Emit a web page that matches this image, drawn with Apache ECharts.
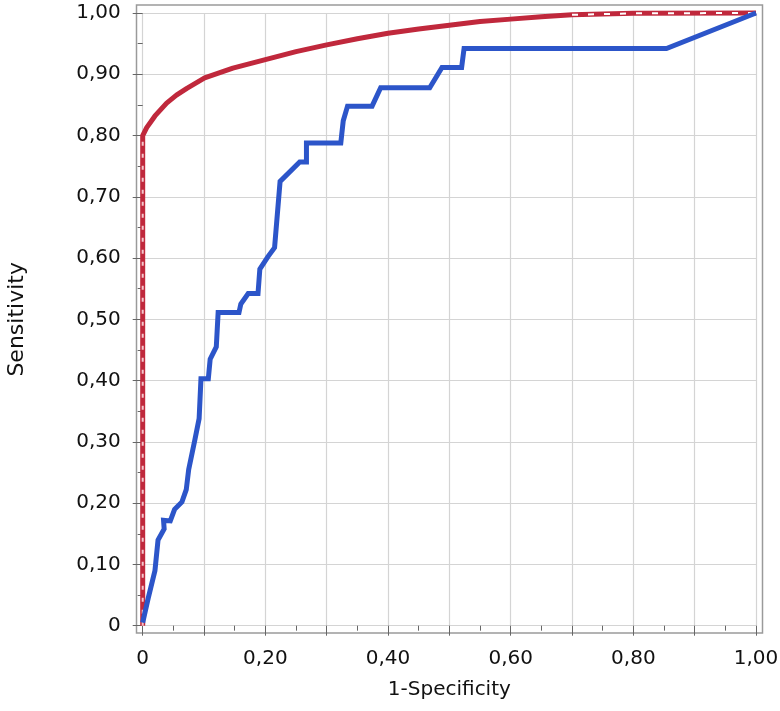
<!DOCTYPE html>
<html>
<head>
<meta charset="utf-8">
<script src="https://cdn.jsdelivr.net/npm/echarts@6/dist/echarts.min.js"></script>
<style>
  html, body { margin: 0; padding: 0; background: #fff; }
  #chart { width: 780px; height: 711px; }
</style>
</head>
<body>
<div id="chart"></div>
<script>
// ROC points: [1-specificity, sensitivity]
const redCurve = [
  [0, 0], [0, 0.80], [0.0065, 0.813], [0.02, 0.832], [0.039, 0.853], [0.055, 0.866],
  [0.072, 0.877], [0.101, 0.894], [0.147, 0.910], [0.20, 0.924], [0.25, 0.937],
  [0.30, 0.948], [0.35, 0.958], [0.40, 0.967], [0.45, 0.974], [0.50, 0.980],
  [0.55, 0.986], [0.60, 0.990], [0.65, 0.994], [0.70, 0.997], [0.80, 0.9995], [1, 1]
];
// dashed overlay parts of the red curve
const redDashLow = [[0, 0], [0, 0.80]];
const redDashTop = [[0.70, 0.997], [0.80, 0.9995], [1, 1]];

const blueCurve = [
  [0, 0.005], [0.009, 0.045], [0.02, 0.09], [0.025, 0.14], [0.035, 0.158], [0.034, 0.172],
  [0.045, 0.171], [0.052, 0.19], [0.064, 0.202], [0.071, 0.222], [0.075, 0.255],
  [0.085, 0.303], [0.092, 0.338], [0.095, 0.403], [0.107, 0.403], [0.110, 0.435],
  [0.120, 0.455], [0.123, 0.511], [0.157, 0.511], [0.160, 0.525], [0.172, 0.542],
  [0.188, 0.542], [0.191, 0.582], [0.204, 0.602], [0.215, 0.617], [0.224, 0.725],
  [0.256, 0.757], [0.267, 0.757], [0.267, 0.788], [0.323, 0.788], [0.327, 0.824],
  [0.334, 0.848], [0.374, 0.848], [0.388, 0.878], [0.468, 0.878], [0.488, 0.911],
  [0.520, 0.911], [0.524, 0.942], [0.854, 0.942], [1, 1]
];

const fmt = (v) => (v === 0 ? '0' : v.toFixed(2).replace('.', ','));
const labelStyle = { color: '#111', fontSize: 20, fontFamily: 'DejaVu Sans' };

const chart = echarts.init(document.getElementById('chart'), null, { renderer: 'canvas' });
chart.setOption({
  animation: false,
  backgroundColor: '#fff',
  grid: {
    left: 142.7, right: 24, top: 13, bottom: 85.3,
    containLabel: false, outerBoundsMode: 'none'
  },
  graphic: [{
    type: 'rect',
    z: 0,
    shape: { x: 136.5, y: 5, width: 626, height: 628 },
    style: { fill: 'none', stroke: '#9a9a9a', lineWidth: 1.5 }
  }],
  xAxis: {
    type: 'value',
    min: 0, max: 1, interval: 0.1,
    offset: 7,
    name: '1-Specificity',
    nameLocation: 'middle',
    nameGap: 47,
    nameTextStyle: { color: '#111', fontSize: 20, fontFamily: 'DejaVu Sans' },
    axisLine: { show: false },
    axisTick: { show: true, length: 10, lineStyle: { color: '#666' } },
    minorTick: { show: true, splitNumber: 2, length: 5, lineStyle: { color: '#666' } },
    axisLabel: Object.assign({
      margin: 16,
      formatter: (v) => (Math.round(v * 10) % 2 ? '' : fmt(v))
    }, labelStyle),
    splitLine: { show: true, lineStyle: { color: '#d4d4d4', width: 1.2 } }
  },
  yAxis: {
    type: 'value',
    min: 0, max: 1, interval: 0.1,
    offset: 6,
    name: 'Sensitivity',
    nameLocation: 'middle',
    nameGap: 108,
    nameTextStyle: { color: '#111', fontSize: 22, fontFamily: 'DejaVu Sans' },
    axisLine: { show: false },
    axisTick: { show: true, length: 10, lineStyle: { color: '#666' } },
    minorTick: { show: true, splitNumber: 2, length: 5, lineStyle: { color: '#666' } },
    axisLabel: Object.assign({ margin: 16, formatter: fmt }, labelStyle),
    splitLine: { show: true, lineStyle: { color: '#d4d4d4', width: 1.2 } }
  },
  series: [
    {
      type: 'line', data: redCurve, showSymbol: false, clip: false, z: 3,
      lineStyle: { color: '#c0283c', width: 5 }
    },
    {
      type: 'line', data: redDashLow, showSymbol: false, clip: false, z: 4,
      lineStyle: { color: '#f4c6cc', width: 2, type: [4, 8] }
    },
    {
      type: 'line', data: redDashTop, showSymbol: false, clip: false, z: 4,
      lineStyle: { color: '#ffffff', width: 2, type: [6, 10] }
    },
    {
      type: 'line', data: blueCurve, showSymbol: false, clip: false, z: 5,
      lineStyle: { color: '#2c55c9', width: 5, join: 'miter' }
    }
  ]
});
</script>
</body>
</html>
